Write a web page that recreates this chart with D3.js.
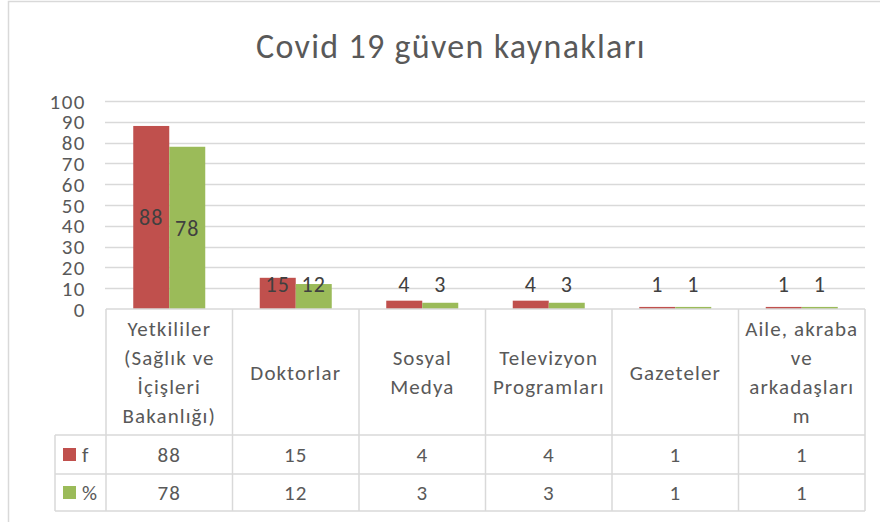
<!DOCTYPE html>
<html>
<head>
<meta charset="utf-8">
<script src="https://cdn.jsdelivr.net/npm/d3@7"></script>
<style>
	body { margin:0; background:#fff; }
	svg { display:block; font-family: Carlito, Lato, sans-serif; }
</style>
</head>
<body>
<svg id="chart" width="880" height="522"></svg>
<script>
var categories = ['Yetkililer','Doktorlar','Sosyal Medya','Televizyon Programları','Gazeteler','Aile, akraba ve arkadaşlarım']
var category_lines = [
	['Yetkililer','(Sağlık ve','İçişleri','Bakanlığı)'],
	['Doktorlar'],
	['Sosyal','Medya'],
	['Televizyon','Programları'],
	['Gazeteler'],
	['Aile, akraba','ve','arkadaşları','m']
]
var series_names = ['f','%']
var f_values = [88,15,4,4,1,1]
var pct_values = [78,12,3,3,1,1]
var y_ticks = [0,10,20,30,40,50,60,70,80,90,100]

var colors = {'f':'#c0504d','%':'#9bbb59'},
	text_color = '#595959',
	grid_color = '#d9d9d9'

var svg = d3.select('#chart')

// outer chart border
svg.append('rect')
	.attr('x',8.5)
	.attr('y',1.5)
	.attr('width',900)
	.attr('height',540)
	.attr('fill','none')
	.attr('stroke',grid_color)
	.attr('stroke-width',1.5)

svg.append('text')
	.attr('x',451)
	.attr('y',58)
	.attr('text-anchor','middle')
	.style('font-size','34px')
	.style('letter-spacing','1.3px')
	.style('fill',text_color)
	.text('Covid 19 güven kaynakları')

var x = d3.scaleBand()
	.domain(categories)
	.range([106,865])

var x_sub = d3.scaleBand()
	.domain(series_names)
	.range([0,x.bandwidth()])
	.paddingOuter(0.757)

var y = d3.scaleLinear()
	.domain([0,100])
	.range([309,101])

// gridlines
svg.append('g')
	.selectAll('line')
	.data(y_ticks.filter(function(d){ return d > 0 }))
	.enter()
	.append('line')
	.attr('x1',105)
	.attr('x2',865)
	.attr('y1',function(d){ return Math.round(y(d))+0.5 })
	.attr('y2',function(d){ return Math.round(y(d))+0.5 })
	.style('stroke',grid_color)
	.style('stroke-width',1.5)

// y tick labels
svg.append('g')
	.selectAll('text')
	.data(y_ticks)
	.enter()
	.append('text')
	.attr('x',86)
	.attr('y',function(d){ return y(d)+7.5 })
	.attr('text-anchor','end')
	.style('font-size','21px')
	.style('letter-spacing','1.5px')
	.style('fill',text_color)
	.text(function(d){ return d })

var rows = categories.map(function(c,i){
	return {cat:c, lines:category_lines[i], values:{'f':f_values[i],'%':pct_values[i]}}
})

var groups = svg.append('g')
	.selectAll('g')
	.data(rows)
	.enter()
	.append('g')
	.attr('transform',function(d){ return 'translate('+x(d.cat)+',0)' })

groups.selectAll('rect')
	.data(function(d){
		return series_names.map(function(s){ return {key:s, value:d.values[s]} })
	})
	.enter()
	.append('rect')
	.attr('x',function(d){ return x_sub(d.key) })
	.attr('width',x_sub.bandwidth())
	.attr('y',function(d){ return y(d.value) })
	.attr('height',function(d){ return y(0) - y(d.value) })
	.style('fill',function(d){ return colors[d.key] })

groups.selectAll('text.label')
	.data(function(d){
		return series_names.map(function(s){ return {key:s, value:d.values[s]} })
	})
	.enter()
	.append('text')
	.attr('class','label')
	.attr('x',function(d){ return x_sub(d.key) + x_sub.bandwidth()/2 })
	.attr('y',function(d){ return Math.min(y(d.value/2), y(0)-25) + 8 })
	.attr('text-anchor','middle')
	.style('font-size','22px')
	.style('letter-spacing','1px')
	.style('fill','#404040')
	.text(function(d){ return d.value })

// data table
var table = svg.append('g')
	.style('stroke',grid_color)
	.style('stroke-width',1.5)

var t_top = 309, t_head = 435, t_row1 = 474, t_bottom = 511, t_left = 55

table.append('line').attr('x1',106).attr('x2',865).attr('y1',t_top).attr('y2',t_top)
table.append('line').attr('x1',t_left).attr('x2',865).attr('y1',t_head).attr('y2',t_head)
table.append('line').attr('x1',t_left).attr('x2',865).attr('y1',t_row1).attr('y2',t_row1)
table.append('line').attr('x1',t_left).attr('x2',865).attr('y1',t_bottom).attr('y2',t_bottom)
table.append('line').attr('x1',t_left).attr('x2',t_left).attr('y1',t_head).attr('y2',t_bottom)
table.selectAll('line.v')
	.data(categories.concat(['end']))
	.enter()
	.append('line')
	.attr('class','v')
	.attr('x1',function(d){ return d === 'end' ? 865 : x(d) })
	.attr('x2',function(d){ return d === 'end' ? 865 : x(d) })
	.attr('y1',t_top)
	.attr('y2',t_bottom)

// category headers
groups.each(function(d){
	var n = d.lines.length,
		lh = 29,
		cy = (t_top + t_head)/2
	d3.select(this).selectAll('text.cat')
		.data(d.lines)
		.enter()
		.append('text')
		.attr('class','cat')
		.attr('x',x.bandwidth()/2)
		.attr('y',function(l,i){ return cy + (i - (n-1)/2)*lh + 7.5 })
		.attr('text-anchor','middle')
		.style('font-size','21px')
		.style('letter-spacing','1.1px')
		.style('fill',text_color)
		.text(function(l){ return l })
})

// table values
var row_y = {'f':(t_head+t_row1)/2, '%':(t_row1+t_bottom)/2}
groups.selectAll('text.val')
	.data(function(d){
		return series_names.map(function(s){ return {key:s, value:d.values[s]} })
	})
	.enter()
	.append('text')
	.attr('class','val')
	.attr('x',x.bandwidth()/2)
	.attr('y',function(d){ return row_y[d.key] + 7.5 })
	.attr('text-anchor','middle')
	.style('font-size','21px')
	.style('letter-spacing','1px')
	.style('fill',text_color)
	.text(function(d){ return d.value })

// legend keys in the table
var legend = svg.append('g')
	.selectAll('g')
	.data(series_names)
	.enter()
	.append('g')
	.attr('transform',function(d){ return 'translate(0,'+row_y[d]+')' })
legend.append('rect')
	.attr('x',63)
	.attr('y',-6.5)
	.attr('width',13)
	.attr('height',13)
	.style('fill',function(d){ return colors[d] })
legend.append('text')
	.attr('x',82)
	.attr('y',7.5)
	.style('font-size','21px')
	.style('fill',text_color)
	.text(function(d){ return d })
</script>
</body>
</html>
